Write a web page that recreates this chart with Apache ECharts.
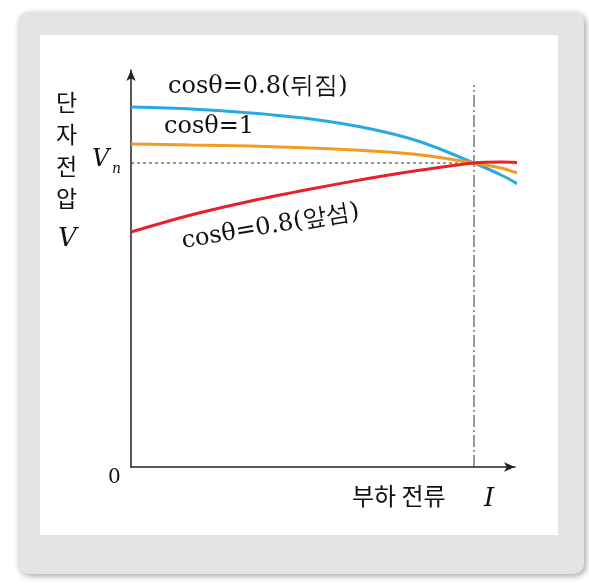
<!DOCTYPE html>
<html><head><meta charset="utf-8">
<script src="https://cdn.jsdelivr.net/npm/echarts@6/dist/echarts.min.js"></script>
<style>html,body{margin:0;background:#fff}#c{width:589px;height:586px}</style>
</head><body><div id="c"></div>
<script>
// x: load current offset, y: terminal voltage (both in plot units)
const lagX = [0, 60, 120, 180, 240, 290, 343, 370, 396];
const lagY = [360, 358, 354, 348, 338, 325, 304, 292, 278];
const unityX = [0, 60, 120, 180, 240, 290, 343, 370, 392];
const unityY = [323, 322, 321, 319, 316, 312, 304, 299, 292];
const leadX = [0, 60, 120, 180, 240, 290, 343, 370, 396];
const leadY = [235, 252, 266, 278, 289, 297, 304, 305, 304];
const VN = 304, IN = 343;

const zip = (xs, ys) => xs.map((x, i) => [x, ys[i]]);
const serif = "'DejaVu Serif','Liberation Serif',serif";
const kfont = "'Noto Sans CJK KR',sans-serif";
const line = (data, color) => ({
  type: "line", data, smooth: 0.3, symbol: "none", clip: false,
  lineStyle: { color, width: 3 }, z: 3,
});

const chart = echarts.init(document.getElementById("c"));
chart.setOption({
  animation: false,
  grid: { left: 131, top: 70, width: 384, height: 397 },
  xAxis: {
    type: "value", min: 0, max: 384, splitLine: { show: false },
    axisLabel: { show: false }, axisTick: { show: false },
    axisLine: { lineStyle: { color: "#222", width: 1.5 }, symbol: ["none", "arrow"], symbolSize: [7, 11] },
  },
  yAxis: {
    type: "value", min: 0, max: 397, splitLine: { show: false },
    axisLabel: { show: false }, axisTick: { show: false },
    axisLine: { lineStyle: { color: "#222", width: 1.5 }, symbol: ["none", "arrow"], symbolSize: [7, 11] },
  },
  series: [
    line(zip(lagX, lagY), "#27a9e1"),
    line(zip(unityX, unityY), "#f39a21"),
    line(zip(leadX, leadY), "#e8202a"),
    { type: "line", data: [[0, VN], [IN, VN]], symbol: "none",
      lineStyle: { color: "#333", width: 1, type: [3, 3] }, z: 2 },
    { type: "line", data: [[IN, 0], [IN, 382]], symbol: "none", clip: false,
      lineStyle: { color: "#333", width: 1, type: [12, 3, 2, 3] }, z: 2 },
  ],
  graphic: [
    { type: "rect", shape: { x: 18, y: 12, width: 566, height: 562, r: 10 },
      style: { fill: "#e4e4e4", shadowBlur: 6, shadowColor: "rgba(0,0,0,0.35)", shadowOffsetX: 2, shadowOffsetY: 2 }, z: -10 },
    { type: "rect", shape: { x: 40, y: 35, width: 518, height: 500 }, style: { fill: "#fff" }, z: -9 },
    { type: "text", x: 168, y: 75, style: { text: "cosθ=0.8(뒤짐)", font: "24px " + serif, fill: "#111" } },
    { type: "text", x: 164, y: 115, style: { text: "cosθ=1", font: "24px " + serif, fill: "#111" } },
    { type: "text", x: 180, y: 230, rotation: 0.17, style: { text: "cosθ=0.8(앞섬)", font: "24px " + serif, fill: "#111" } },
    { type: "text", x: 56, y: 86, style: { text: "단\n자\n전\n압", font: "23px " + kfont, lineHeight: 32, fill: "#111" } },
    { type: "text", x: 58, y: 226, style: { text: "V", font: "italic 26px " + serif, fill: "#111" } },
    { type: "text", x: 92, y: 148, style: { text: "V", font: "italic 24px " + serif, fill: "#111" } },
    { type: "text", x: 112, y: 162, style: { text: "n", font: "italic 14px " + serif, fill: "#111" } },
    { type: "text", x: 108, y: 468, style: { text: "0", font: "20px " + serif, fill: "#111" } },
    { type: "text", x: 352, y: 484, style: { text: "부하 전류", font: "24px " + kfont, fill: "#111" } },
    { type: "text", x: 484, y: 486, style: { text: "I", font: "italic 26px " + serif, fill: "#111" } },
  ],
});
</script></body></html>
